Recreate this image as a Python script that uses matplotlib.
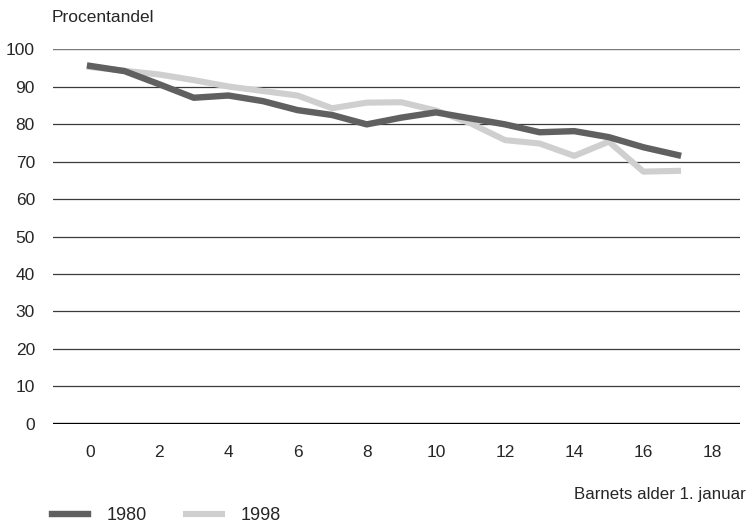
import matplotlib.pyplot as plt
import numpy as np

plt.rcParams['font.family'] = ['Liberation Sans', 'DejaVu Sans']

ages = np.arange(0, 18)
share_1980 = [95.5, 94.1, 90.6, 87.0, 87.6, 86.1, 83.7, 82.4, 79.9, 81.7,
              83.1, 81.5, 79.9, 77.8, 78.1, 76.5, 73.8, 71.7]
share_1998 = [95.2, 94.2, 93.2, 91.7, 90.0, 88.8, 87.6, 84.2, 85.7, 85.8,
              83.6, 80.2, 75.7, 74.8, 71.5, 75.3, 67.3, 67.5]
yticks = list(range(0, 101, 10))
xticks = list(range(0, 19, 2))

text_col = "#262626"
fs = 12.5

fig = plt.figure(figsize=(7.5, 5.23), dpi=100)
ax = fig.add_axes([0.0707, 0.1893, 0.9163, 0.717])

# horizontal grid, zero line heavier
for v in yticks:
    if v == 0:
        ax.axhline(v, color="black", lw=2.4, zorder=1)
    elif v == 100:
        ax.axhline(v, color="#7a7a7a", lw=1.0, zorder=1)
    else:
        ax.axhline(v, color="#3a3a3a", lw=0.9, zorder=1)

ax.plot(ages, share_1998, color="#cfcfcf", lw=4.4, solid_joinstyle="round",
        label="1998", zorder=2)
ax.plot(ages, share_1980, color="#606060", lw=4.6, solid_joinstyle="round",
        label="1980", zorder=3)

ax.set_xlim(-1.07, 18.8)
ax.set_ylim(0, 100)
ax.set_xticks(xticks)
ax.set_yticks(yticks)
ax.tick_params(axis="both", length=0, labelsize=fs, labelcolor=text_col)
ax.tick_params(axis="x", pad=15)
ax.tick_params(axis="y", pad=13)
for s in ax.spines.values():
    s.set_visible(False)

fig.text(52 / 750, 1 - 18 / 523, "Procentandel", fontsize=fs, color=text_col,
         ha="left", va="center")
fig.text(746 / 750, 1 - 494 / 523, "Barnets alder 1. januar", fontsize=12.2,
         color=text_col, ha="right", va="center")

handles, labels = ax.get_legend_handles_labels()
fig.legend(handles[::-1], labels[::-1], loc="center left",
           bbox_to_anchor=(52 / 750, 1 - 516 / 523), ncol=2, frameon=False,
           fontsize=13, labelcolor=text_col, handlelength=2.0,
           handletextpad=1.0, columnspacing=2.2, borderpad=0,
           borderaxespad=0)

fig.savefig("out.png", dpi=100)
